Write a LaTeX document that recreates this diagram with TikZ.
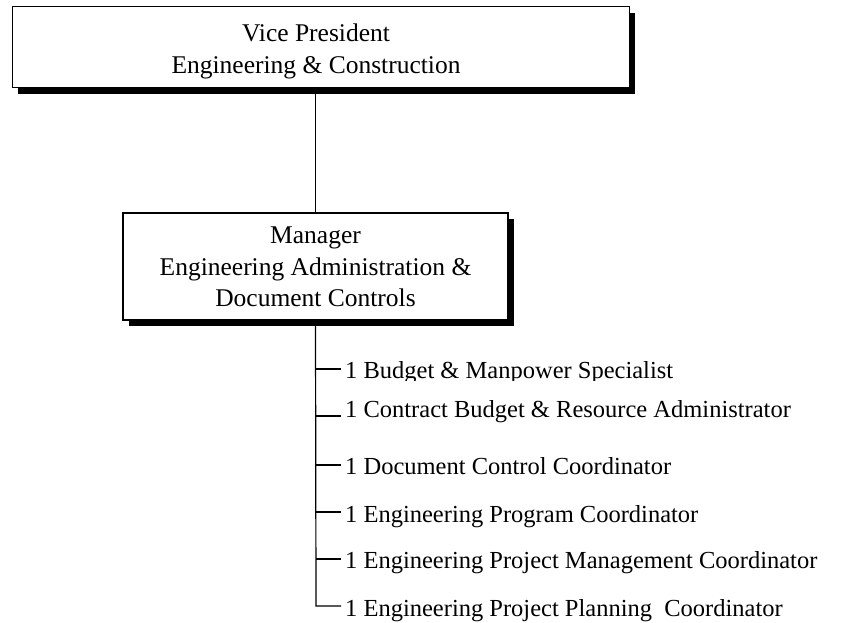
\documentclass[tikz,border=0pt]{standalone}
\usepackage{fontspec}
\setmainfont{Liberation Serif}
\usetikzlibrary{shadows}
\begin{document}
\begin{tikzpicture}[x=1pt,y=-1pt,
  orgbox/.style={draw=black, fill=white, inner sep=0pt},
  boxtext/.style={align=center, inner sep=0pt, font=\fontsize{25.5}{31.5}\selectfont},
  bshadow/.style={drop shadow={shadow xshift=6pt, shadow yshift=-6pt, fill=black, opacity=1}},
  item/.style={anchor=base west, inner sep=0pt, font=\fontsize{24.5}{29}\selectfont},
  conn/.style={line width=1.2pt}]
\useasboundingbox (0,0) rectangle (860,623);
% boxes
\node[orgbox, bshadow, line width=1pt, minimum width=617pt, minimum height=81pt] (vp) at (320.5,47.5) {};
\node[boxtext] (vpt) at (316,51.5) {Vice President\\Engineering \& Construction};
\node[orgbox, bshadow, line width=2.5pt, minimum width=385pt, minimum height=107pt] (mgr) at (315.5,266.5) {};
\node[boxtext] (mgrt) at (315.5,267) {Manager\\Engineering Administration \&\\Document Controls};
% connector between boxes
\draw[conn] (mgr.north) -- (mgr.north |- vp.south);
% list items
\begin{scope}
  \clip (0,0) rectangle (860,380);
  \node[item] (i1) at (345,378.5) {1 Budget \& Manpower Specialist};
\end{scope}
\node[item] (i2) at (345,417) {1 Contract Budget \& Resource Administrator};
\node[item] (i3) at (345,474) {1 Document Control Coordinator};
\node[item] (i4) at (345,522) {1 Engineering Program Coordinator};
\node[item] (i5) at (345,568) {1 Engineering Project Management Coordinator};
\node[item] (i6) at (345,616) {1 Engineering Project Planning~~Coordinator};
% trunk and ticks
\coordinate (t1) at (316,369);
\coordinate (t2) at (316,416);
\coordinate (t3) at (316,465);
\coordinate (t4) at (316,512);
\coordinate (t5) at (316,559);
\coordinate (t6) at (316,606);
\draw[conn] (mgr.south) -- (t6) -- ++(25,0);
\foreach \k in {1,...,5} {\draw[conn] (t\k) -- ++(25,0);}
\end{tikzpicture}
\end{document}
